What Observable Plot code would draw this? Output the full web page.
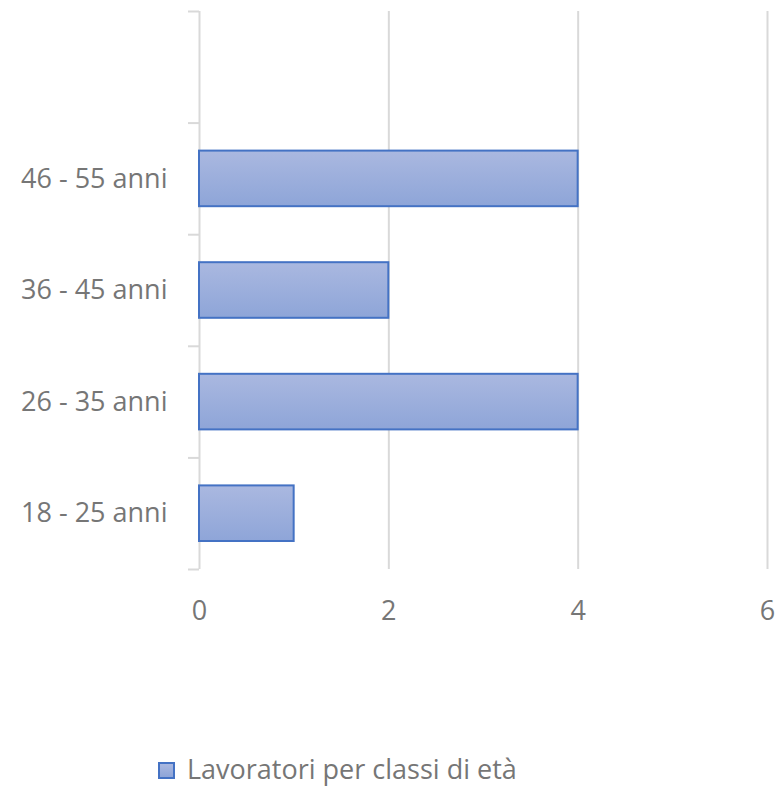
<!DOCTYPE html>
<html><head><meta charset="utf-8">
<script src="https://cdn.jsdelivr.net/npm/d3@7"></script>
<script src="https://cdn.jsdelivr.net/npm/@observablehq/plot@0.6"></script>
<style>
html,body{margin:0;background:#fff;font-family:"Open Sans",sans-serif;overflow:hidden;}
#chart{width:777px;}
#chart svg{overflow:visible;}
#legend{position:relative;width:777px;height:37px;}
#legend .sw{position:absolute;left:158px;top:12px;width:13px;height:13px;border:2px solid #4472c4;background:linear-gradient(#aab8e0,#8ea5d8);}
#legend .tx{position:absolute;left:187px;top:19px;transform:translateY(-50%);font-size:27px;line-height:1.1;color:#767676;white-space:nowrap;}
</style></head><body>
<div id="chart"></div>
<div id="legend"><div class="sw"></div><div class="tx"></div></div>
<script>
const categories = ["18 - 25 anni", "26 - 35 anni", "36 - 45 anni", "46 - 55 anni", ""];
const values = [1, 4, 2, 4, null];
const xTicks = [0, 2, 4, 6];
const seriesName = "Lavoratori per classi di età";

const rows = categories.map((c, i) => ({c, i, v: values[i]}));
const bars = rows.filter(d => d.v != null);

const plot = Plot.plot({
  width: 777, height: 750,
  marginLeft: 199, marginRight: 10, marginTop: 11, marginBottom: 181,
  style: {fontFamily: '"Open Sans",sans-serif', fontSize: "27px", color: "#767676", background: "#fff", overflow: "visible"},
  x: {domain: [0, 6]},
  y: {domain: [0, categories.length]},
  marks: [
    Plot.ruleX(xTicks, {stroke: "#d9d9d9", strokeWidth: 2}),
    Plot.rectX(bars, {x1: 0, x2: "v", y1: "i", y2: d => d.i + 1, insetTop: 28, insetBottom: 28,
      fill: "url(#barGrad)", stroke: "#4472c4", strokeWidth: 2}),
    Plot.axisX({ticks: xTicks, tickFormat: d3.format("d"), tickSize: 0, tickPadding: 31, label: null, fill: "#767676"}),
    Plot.axisY({ticks: rows.map(d => d.i + 0.5), tickFormat: t => categories[Math.floor(t)],
      tickSize: 0, tickPadding: 32, label: null, fill: "#767676"}),
    Plot.axisY({ticks: d3.range(categories.length + 1), tickSize: 11, tickFormat: () => "",
      stroke: "#d9d9d9", strokeWidth: 2, label: null})
  ]
});

d3.select(plot).insert("defs", ":first-child").html(
  '<linearGradient id="barGrad" x1="0" y1="0" x2="0" y2="1">' +
  '<stop offset="0" stop-color="#aab8e0"/><stop offset="1" stop-color="#8ea5d8"/></linearGradient>');

document.getElementById("chart").appendChild(plot);
document.querySelector("#legend .tx").textContent = seriesName;
</script>
</body></html>
